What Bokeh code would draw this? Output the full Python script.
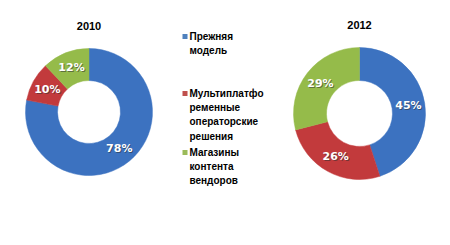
import math
from bokeh.plotting import figure
from bokeh.models import Range1d, ColumnDataSource
from bokeh.core.properties import value
from bokeh.embed import file_html
from bokeh.resources import INLINE

categories = ["Прежняя модель", "Мультиплатформенные операторские решения", "Магазины контента вендоров"]
legend_lines = [["Прежняя", "модель"],
                ["Мультиплатфо", "ременные", "операторские", "решения"],
                ["Магазины", "контента", "вендоров"]]
values_2010 = [78, 10, 12]
values_2012 = [45, 26, 29]
years = ["2010", "2012"]
colors = ["#3C72C0", "#C23A3C", "#95BB4A"]
legend_colors = ["#4F81BD", "#C0504D", "#9BBB59"]

W, H = 450, 245
p = figure(width=W, height=H, output_backend="svg", toolbar_location=None,
           x_range=Range1d(0, W), y_range=Range1d(0, H), min_border=0)
p.axis.visible = False
p.grid.visible = False
p.outline_line_color = None
p.background_fill_color = "white"
p.border_fill_color = "white"

FONT_T = "Liberation Sans"

def donut(vals, cx, cy, r_out, r_in, title, ty):
    total = float(sum(vals))
    starts, ends, lx, ly, txt = [], [], [], [], []
    a = math.pi / 2
    rm = (r_out + r_in) / 2
    for v in vals:
        sweep = 2 * math.pi * v / total
        starts.append(a)
        ends.append(a - sweep)
        mid = a - sweep / 2
        lx.append(cx + rm * math.cos(mid))
        ly.append(H - cy + rm * math.sin(mid))
        txt.append("%d%%" % v)
        a -= sweep
    src = ColumnDataSource(dict(start=starts, end=ends, color=colors))
    p.annular_wedge(x=cx, y=H - cy, inner_radius=r_in, outer_radius=r_out,
                    start_angle="start", end_angle="end", direction="clock",
                    fill_color="color", line_color="color", line_width=0.5, source=src)
    ls = ColumnDataSource(dict(x=lx, y=ly, t=txt))
    p.text(x="x", y="y", text="t", source=ls, x_offset=1, y_offset=1,
           text_color="#303030", text_alpha=0.55, text_font=value("DejaVu Sans"),
           text_font_size="11px", text_font_style="bold",
           text_align="center", text_baseline="middle")
    p.text(x="x", y="y", text="t", source=ls,
           text_color="white", text_font=value("DejaVu Sans"),
           text_font_size="11px", text_font_style="bold",
           text_align="center", text_baseline="middle")
    p.text(x=[cx], y=[H - ty], text=[title], text_color="black",
           text_font=value(FONT_T), text_font_size="11px", text_font_style="bold",
           text_align="center", text_baseline="middle")

donut(values_2010, 88.5, 111.5, 63.5, 31.5, years[0], 25)
donut(values_2012, 359, 113, 66, 33, years[1], 24)

# legend
legend_first_y = [36, 93, 152]
step = 14.2
for lines, c, y0 in zip(legend_lines, legend_colors, legend_first_y):
    p.rect(x=[184.5], y=[H - y0], width=5, height=5, fill_color=c, line_color=None)
    ys = [H - (y0 + i * step) for i in range(len(lines))]
    p.text(x=[189] * len(lines), y=ys, text=lines, text_color="black",
           text_font=value(FONT_T), text_font_size="10px", text_font_style="bold",
           text_align="left", text_baseline="middle")

open("out.html", "w").write(file_html(p, INLINE))
